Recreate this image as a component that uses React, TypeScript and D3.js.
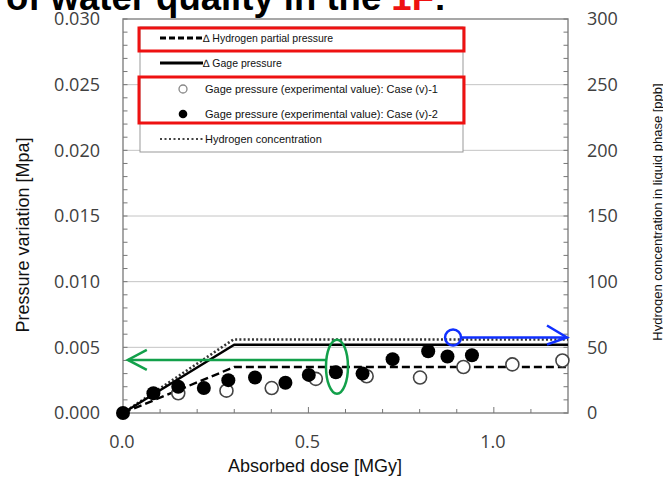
import React from "react"
import * as d3 from "d3"

// Data
const partialPressure: [number, number][] = [[0, 0], [0.3, 0.0035], [1.2, 0.0035]]
const gagePressure: [number, number][] = [[0, 0], [0.3, 0.0052], [1.2, 0.0052]]
const h2Concentration: [number, number][] = [[0, 0], [0.298, 56], [1.2, 56]]

const caseV1: [number, number][] = [
  [0.149, 0.0015], [0.279, 0.0017], [0.401, 0.0019], [0.52, 0.0026], [0.657, 0.0028],
  [0.801, 0.0027], [0.918, 0.0035], [1.05, 0.0037], [1.185, 0.004],
]
const caseV2: [number, number][] = [
  [0, 0], [0.082, 0.0015], [0.149, 0.002], [0.218, 0.0019], [0.284, 0.0025],
  [0.356, 0.0027], [0.438, 0.0023], [0.501, 0.0029], [0.574, 0.0031], [0.646, 0.003],
  [0.727, 0.0041], [0.823, 0.0047], [0.875, 0.0043], [0.941, 0.0044],
]

const leftTicks = [0, 0.005, 0.01, 0.015, 0.02, 0.025, 0.03]
const rightTicks = [0, 50, 100, 150, 200, 250, 300]
const xTicks = [0, 0.5, 1.0]

const App: React.FC = () => {
  const W = 663, H = 478
  const x = d3.scaleLinear().domain([0, 1.2]).range([123, 568])
  const y = d3.scaleLinear().domain([0, 0.03]).range([413, 19])
  const yR = d3.scaleLinear().domain([0, 300]).range([413, 19])

  const line = d3.line<[number, number]>().x(d => x(d[0])).y(d => y(d[1]))
  const lineR = d3.line<[number, number]>().x(d => x(d[0])).y(d => yR(d[1]))

  const minorY = d3.range(0, 31).map(i => i * 0.001)
  const minorX = d3.range(1, 12).map(i => i * 0.1)
  const tickFont = "'Open Sans', 'DejaVu Sans', sans-serif"
  const font = "'Liberation Sans', Arial, sans-serif"

  // legend
  const lg = { x: 140, y: 27, w: 323, h: 125 }
  const rowY = [38, 63, 89, 114, 139]

  // annotations, in data units
  const green = "#12a04a"
  const blue = "#1030ff"
  const ell = { x: 0.577, y: 0.00353 }
  const gArrowY = y(0.00404)
  const gTip = x(0.013)
  const bC = { x: 0.89, y: 57.5 }

  return (
    <div style={{ position: "fixed", left: 0, top: 0 }}>
      <svg width={W} height={H} style={{ display: "block", background: "#fff" }}>
        {/* title fragment */}
        <text x={6} y={10} fontFamily={font} fontWeight="bold" fontSize={36.5} fill="#000">
          of water quality in the <tspan fill="#ee1111">1F</tspan>:
        </text>

        {/* gridlines */}
        {leftTicks.slice(1, -1).map(t => (
          <line key={"g" + t} x1={x(0)} x2={x(1.2)} y1={y(t)} y2={y(t)} stroke="#c4c4c4" strokeWidth={1} />
        ))}

        {/* frame */}
        <rect x={x(0)} y={y(0.03)} width={x(1.2) - x(0)} height={y(0) - y(0.03)} fill="none" stroke="#8a8a8a" strokeWidth={1.5} />

        {/* minor ticks */}
        {minorY.map(t => (
          <g key={"my" + t}>
            <line x1={x(0)} x2={x(0) + 4.5} y1={y(t)} y2={y(t)} stroke="#777" strokeWidth={1} />
            <line x1={x(1.2)} x2={x(1.2) - 4.5} y1={y(t)} y2={y(t)} stroke="#777" strokeWidth={1} />
          </g>
        ))}
        {minorX.map(t => (
          <line key={"mx" + t} x1={x(t)} x2={x(t)} y1={y(0)} y2={y(0) - (Math.abs(t - 0.5) < 1e-6 || Math.abs(t - 1) < 1e-6 ? 6 : 4)} stroke="#777" strokeWidth={1} />
        ))}

        {/* tick labels */}
        {leftTicks.map(t => (
          <text key={"ly" + t} x={100} y={y(t)} dy="0.36em" textAnchor="end" fontFamily={tickFont} fontSize={18} fill="#404040">
            {d3.format(".3f")(t)}
          </text>
        ))}
        {rightTicks.map(t => (
          <text key={"ry" + t} x={587} y={yR(t)} dy="0.36em" textAnchor="start" fontFamily={tickFont} fontSize={18} fill="#404040">
            {t}
          </text>
        ))}
        {xTicks.map(t => (
          <text key={"lx" + t} x={x(t) - 1} y={448} textAnchor="middle" fontFamily={tickFont} fontSize={18} fill="#404040">
            {d3.format(".1f")(t)}
          </text>
        ))}

        {/* axis titles */}
        <text transform={`translate(29,${235}) rotate(-90)`} textAnchor="middle" fontFamily={font} fontSize={18} fill="#111">
          Pressure variation [Mpa]
        </text>
        <text x={315} y={472} textAnchor="middle" fontFamily={font} fontSize={18} fill="#111">
          Absorbed dose [MGy]
        </text>
        <text transform={`translate(662,${212}) rotate(-90)`} textAnchor="middle" fontFamily={font} fontSize={13} fill="#111">
          Hydrogen concentration in liquid phase [ppb]
        </text>

        {/* model lines */}
        <path d={lineR(h2Concentration) ?? ""} fill="none" stroke="#333" strokeWidth={2.6} strokeDasharray="2,2.2" />
        <path d={line(gagePressure) ?? ""} fill="none" stroke="#000" strokeWidth={2.4} />
        <path d={line(partialPressure) ?? ""} fill="none" stroke="#000" strokeWidth={2.4} strokeDasharray="8,4" />

        {/* experimental points */}
        {caseV1.map((d, i) => (
          <circle key={"o" + i} cx={x(d[0])} cy={y(d[1])} r={6.5} fill="#fff" stroke="#444" strokeWidth={1.6} />
        ))}
        {caseV2.map((d, i) => (
          <circle key={"f" + i} cx={x(d[0])} cy={y(d[1])} r={7} fill="#000" />
        ))}

        {/* legend */}
        <rect x={lg.x} y={lg.y} width={lg.w} height={lg.h} fill="#fff" stroke="#999" strokeWidth={1} />
        <line x1={160} x2={203} y1={rowY[0]} y2={rowY[0]} stroke="#000" strokeWidth={3} strokeDasharray="6,3" />
        <line x1={160} x2={203} y1={rowY[1]} y2={rowY[1]} stroke="#000" strokeWidth={3} />
        <circle cx={183} cy={rowY[2]} r={4} fill="#fff" stroke="#888" strokeWidth={1.3} />
        <circle cx={183} cy={rowY[3]} r={4.3} fill="#000" />
        <line x1={160} x2={203} y1={rowY[4]} y2={rowY[4]} stroke="#444" strokeWidth={2} strokeDasharray="2,2.5" />
        {[
          "\u2206 Hydrogen partial pressure",
          "\u2206 Gage pressure",
        ].map((s, i) => (
          <text key={"lt" + i} x={203} y={rowY[i]} dy="0.35em" fontFamily={font} fontSize={10.5} fill="#111">{s}</text>
        ))}
        {[
          "Gage pressure (experimental value): Case (v)-1",
          "Gage pressure (experimental value): Case (v)-2",
          "Hydrogen concentration",
        ].map((s, i) => (
          <text key={"lu" + i} x={205} y={rowY[i + 2]} dy="0.35em" fontFamily={font} fontSize={11} fill="#111">{s}</text>
        ))}
        <rect x={139} y={28} width={325} height={23} fill="none" stroke="#ee1111" strokeWidth={3} />
        <rect x={139} y={77} width={325} height={46} fill="none" stroke="#ee1111" strokeWidth={3} />

        {/* annotations */}
        <ellipse cx={x(ell.x)} cy={y(ell.y)} rx={11} ry={27} fill="none" stroke={green} strokeWidth={2.5} />
        <line x1={x(ell.x) - 11} x2={gTip} y1={gArrowY} y2={gArrowY} stroke={green} strokeWidth={2.5} />
        <polyline points={`${gTip + 19},${gArrowY - 10} ${gTip},${gArrowY} ${gTip + 19},${gArrowY + 10}`} fill="none" stroke={green} strokeWidth={2.5} />
        <circle cx={x(bC.x)} cy={yR(bC.y)} r={8} fill="none" stroke={blue} strokeWidth={2.5} />
        <line x1={x(bC.x) + 8} x2={x(1.2) - 1} y1={yR(bC.y)} y2={yR(bC.y)} stroke={blue} strokeWidth={2.5} />
        <polyline points={`${x(1.2) - 21},${yR(bC.y) - 12} ${x(1.2) - 1},${yR(bC.y)} ${x(1.2) - 21},${yR(bC.y) + 7}`} fill="none" stroke={blue} strokeWidth={2.5} />
      </svg>
    </div>
  )
}

export default App
